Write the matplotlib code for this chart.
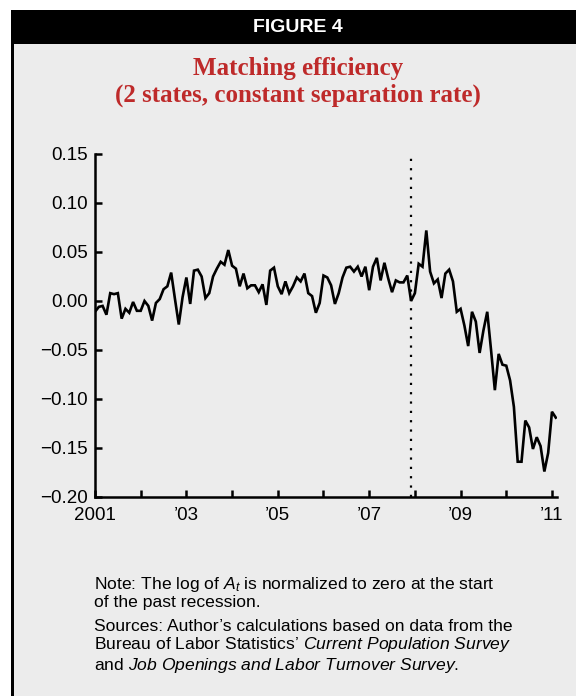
import matplotlib
matplotlib.use("Agg")
import matplotlib.pyplot as plt
import matplotlib.patches as patches
import numpy as np
import pandas as pd

# monthly log matching efficiency, Jan 2001 - Feb 2011
efficiency = [
    -0.011, -0.006, -0.005, -0.014, 0.008, 0.007, 0.008, -0.018, -0.008, -0.012, -0.001, -0.010,
    -0.010, 0.000, -0.005, -0.020, -0.002, 0.002, 0.012, 0.015, 0.029, 0.002, -0.024, 0.004,
    0.024, -0.003, 0.031, 0.032, 0.025, 0.003, 0.008, 0.025, 0.033, 0.040, 0.037, 0.052,
    0.036, 0.033, 0.015, 0.028, 0.013, 0.016, 0.016, 0.009, 0.017, -0.004, 0.031, 0.034,
    0.015, 0.007, 0.020, 0.008, 0.015, 0.024, 0.020, 0.028, 0.008, 0.005, -0.012, -0.002,
    0.026, 0.024, 0.016, -0.003, 0.008, 0.024, 0.034, 0.035, 0.030, 0.035, 0.025, 0.035,
    0.011, 0.035, 0.044, 0.021, 0.039, 0.023, 0.009, 0.021, 0.019, 0.019, 0.026, 0.000,
    0.008, 0.038, 0.035, 0.072, 0.030, 0.018, 0.022, 0.003, 0.028, 0.032, 0.020, -0.011,
    -0.008, -0.025, -0.046, -0.011, -0.021, -0.053, -0.030, -0.011, -0.050, -0.091, -0.054, -0.065,
    -0.066, -0.081, -0.108, -0.164, -0.164, -0.122, -0.129, -0.151, -0.139, -0.148, -0.174, -0.155,
    -0.113, -0.119,
]
start_month = "2001-01"
recession_start = "2007-12"

year_ticks = list(range(2001, 2012))
year_labels = ["2001", "", "\u201903", "", "\u201905", "", "\u201907", "", "\u201909", "", "\u201911"]
y_ticks = [0.15, 0.10, 0.05, 0.00, -0.05, -0.10, -0.15, -0.20]
y_labels = ["0.15", "0.10", "0.05", "0.00", "\u22120.05", "\u22120.10", "\u22120.15", "\u22120.20"]

title = "Matching efficiency\n(2 states, constant separation rate)"
note = "Note: The log of $A_t$ is normalized to zero at the start\nof the past recession."
sources = ("Sources: Author\u2019s calculations based on data from the\n"
           "Bureau of Labor Statistics\u2019 $\\mathit{Current\\ Population\\ Survey}$\n"
           "and $\\mathit{Job\\ Openings\\ and\\ Labor\\ Turnover\\ Survey}$.")

plt.rcParams['font.family'] = ['Liberation Sans', 'DejaVu Sans']
plt.rcParams['mathtext.fontset'] = 'custom'
plt.rcParams['mathtext.rm'] = 'Liberation Sans'
plt.rcParams['mathtext.it'] = 'Liberation Sans:italic'

dates = pd.date_range(start_month, periods=len(efficiency), freq="MS")
x = dates.year + (dates.month - 1) / 12.0
rec = pd.Timestamp(recession_start)
x_rec = rec.year + (rec.month - 1) / 12.0

W, H = 576, 696
fig = plt.figure(figsize=(W / 100, H / 100), dpi=100)
fig.patch.set_facecolor("white")

# panel + header
bg = "#ececec"
fig.patches.append(patches.Rectangle((11 / W, 0), 1, 1 - 10 / H, transform=fig.transFigure,
                                     facecolor=bg, edgecolor="none", zorder=-3))
fig.patches.append(patches.Rectangle((11 / W, 1 - 44 / H), 1, 34 / H, transform=fig.transFigure,
                                     facecolor="black", edgecolor="none", zorder=-2))
fig.patches.append(patches.Rectangle((11 / W, 0), 2.5 / W, 1 - 10 / H, transform=fig.transFigure,
                                     facecolor="black", edgecolor="none", zorder=-2))

fig.text(298 / W, 1 - 27 / H, "FIGURE 4", color="white", fontsize=14, fontweight="bold",
         ha="center", va="center")
fig.text(298 / W, 1 - 82 / H, title, color="#be2a2a", fontsize=18, fontweight="bold",
         family="Liberation Serif", ha="center", va="center", linespacing=1.2)

ax = fig.add_axes([95 / W, 1 - 497 / H, 462 / W, 343 / H])
ax.set_zorder(2)
ax.set_facecolor(bg)
ax.plot(x, efficiency, color="black", lw=1.9, solid_joinstyle="miter")
ax.axvline(x_rec, color="black", lw=1.6, linestyle=(0, (1, 3.2)))

ax.set_xlim(2001, 2011.11)
ax.set_ylim(-0.20, 0.15)
for s in ["top", "right"]:
    ax.spines[s].set_visible(False)
for s in ["left", "bottom"]:
    ax.spines[s].set_linewidth(1.8)

ax.set_xticks(year_ticks)
ax.set_xticklabels(year_labels)
ax.set_yticks(y_ticks)
ax.set_yticklabels(y_labels)
ax.tick_params(direction="in", length=5, width=1.8, labelsize=13.5, pad=5)
ax.tick_params(axis="x", pad=7)

fig.text(94 / W, 1 - 575 / H, note, fontsize=12.6, ha="left", va="top", linespacing=1.1)
fig.text(94 / W, 1 - 619 / H, sources, fontsize=12.6, ha="left", va="top", linespacing=1.1)

fig.savefig("out.png", dpi=100, facecolor=fig.get_facecolor())
